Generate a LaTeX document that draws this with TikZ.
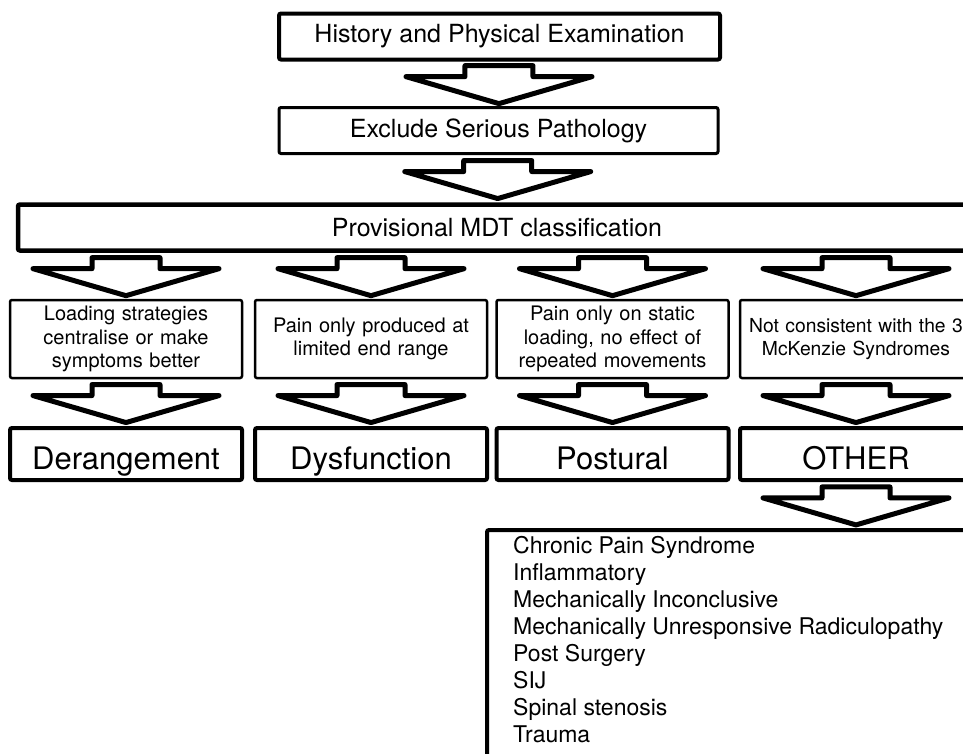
\documentclass[tikz,border=0pt]{standalone}
\usepackage{fontspec}
\setmainfont{TeX Gyre Heros}
\usetikzlibrary{calc}

\tikzset{
  box/.style={draw, rounded corners=2pt, inner sep=0pt, align=center},
  topbox/.style={box, line width=4pt, minimum height=46pt, font=\fontsize{25}{30}\selectfont},
  rulebox/.style={box, line width=2.5pt, minimum width=232pt, minimum height=78pt,
    text width=228pt, font=\fontsize{20}{23.5}\selectfont},
  syndbox/.style={box, line width=4pt, minimum width=232pt, minimum height=52pt,
    text height=30pt, text depth=0pt, font=\fontsize{31}{36}\selectfont},
  listitem/.style={anchor=base west, inner sep=0pt, font=\fontsize{23}{27}\selectfont},
  blockarr/.style={line width=5pt, line join=round},
}

% block arrow in the gap between two points
\newcommand{\blockarrow}[2]{%
  \draw[blockarr] ($(#1)!0.52!(#2)$) ++(-34,-8) -- ++(0,-11) -- ++(68,0) -- ++(0,11)
    -- ++(59,0) -- ++(-93,27) -- ++(-93,-27) -- cycle;
}

\begin{document}
\begin{tikzpicture}[x=1pt, y=-1pt]
\clip (0,0) rectangle (963,753);

\node[topbox, minimum width=441pt] (history) at (499.5,36.5) {History and Physical Examination};
\node[topbox, line width=3pt, minimum width=439pt] (exclude) at (498.5,130.5) {Exclude Serious Pathology};
\node[topbox, line width=4.5pt, minimum width=958pt] (mdt) at (497,227.5) {Provisional MDT classification};

\node[rulebox] (load) at (126,339) {Loading strategies\\centralise or make\\symptoms better};
\node[rulebox] (endrange) at (371,339) {Pain only produced at\\limited end range};
\node[rulebox] (static) at (612.5,339) {Pain only on static\\loading, no effect of\\repeated movements};
\node[rulebox, text width=228pt, font=\fontsize{19.3}{23.5}\selectfont] (notcons) at (856,339)
  {Not consistent with the 3\\McKenzie Syndromes};

\node[syndbox] (derange) at (126,454) {Derangement};
\node[syndbox] (dysfunc) at (371,454) {Dysfunction};
\node[syndbox] (postural) at (612.5,454) {Postural};
\node[syndbox] (other) at (856,454) {OTHER};

\node[draw, line width=4pt, rounded corners=2pt, anchor=north west,
  minimum width=500pt, minimum height=260pt] (otherlist) at (485,528) {};

\foreach \item [count=\i] in {Chronic Pain Syndrome, Inflammatory, Mechanically Inconclusive,
    Mechanically Unresponsive Radiculopathy, Post Surgery, SIJ, Spinal stenosis, Trauma}
  \node[listitem] (item\i) at (513,526+27*\i) {\item};

\blockarrow{history.south}{exclude.north}
\blockarrow{exclude.south}{mdt.north}

\blockarrow{load.north |- mdt.south}{load.north}
\blockarrow{endrange.north |- mdt.south}{endrange.north}
\blockarrow{static.north |- mdt.south}{static.north}
\blockarrow{notcons.north |- mdt.south}{notcons.north}

\blockarrow{load.south}{derange.north}
\blockarrow{endrange.south}{dysfunc.north}
\blockarrow{static.south}{postural.north}
\blockarrow{notcons.south}{other.north}

\blockarrow{other.south}{other.south |- otherlist.north}
\end{tikzpicture}
\end{document}
